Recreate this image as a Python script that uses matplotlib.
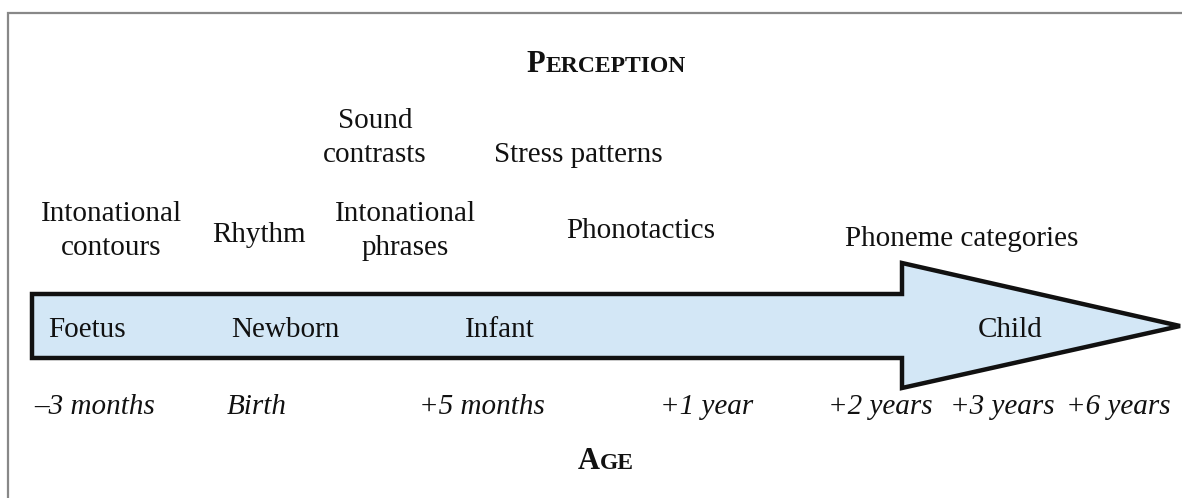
import matplotlib
matplotlib.use("Agg")
import matplotlib.pyplot as plt
from matplotlib.patches import Polygon

plt.rcParams['font.family'] = ['Liberation Serif', 'DejaVu Serif']

W, H = 1182, 498

# perception labels (text, x, y) in pixel coordinates
perception = [
    ("Sound\ncontrasts", 375, 138),
    ("Stress patterns", 578, 155),
    ("Intonational\ncontours", 111, 231),
    ("Rhythm", 259, 235),
    ("Intonational\nphrases", 405, 231),
    ("Phonotactics", 641, 231),
    ("Phoneme categories", 962, 239),
]

stages = ["Foetus", "Newborn", "Infant", "Child"]
stage_x = [87, 285, 500, 1010]

ages = ["\u20133 months", "Birth", "+5 months", "+1 year",
        "+2 years", "+3 years", "+6 years"]
age_x = [95, 257, 482, 707, 880, 1002, 1118]

# arrow outline: shaft, head base, tip
shaft_x0, shaft_top, shaft_bot = 32, 294, 358
head_x, head_top, head_bot = 902, 263, 388
tip_x, tip_y = 1180, 326

fig = plt.figure(figsize=(W / 100, H / 100), dpi=100)
ax = fig.add_axes([0, 0, 1, 1])
ax.set_xlim(0, W)
ax.set_ylim(H, 0)
ax.axis('off')

# frame
ax.plot([8, 8, W + 5], [H + 5, 13, 13], color='#888888', lw=1.6,
        solid_joinstyle='miter')

pts = [(shaft_x0, shaft_top), (head_x, shaft_top), (head_x, head_top),
       (tip_x, tip_y), (head_x, head_bot), (head_x, shaft_bot),
       (shaft_x0, shaft_bot)]
ax.add_patch(Polygon(pts, closed=True, facecolor='#d3e7f6',
                     edgecolor='#111111', lw=3.2, joinstyle='miter'))

fs = 21
for txt, x, y in perception:
    ax.text(x, y, txt, ha='center', va='center', fontsize=fs,
            linespacing=1.38, color='#111111')

for txt, x in zip(stages, stage_x):
    ax.text(x, 330, txt, ha='center', va='center', fontsize=fs,
            color='#111111')

for txt, x in zip(ages, age_x):
    ax.text(x, 407, txt, ha='center', va='center', fontsize=fs,
            style='italic', color='#111111')


def small_caps(word, xc, y, big=22, small=17):
    r = fig.canvas.get_renderer()
    t1 = ax.text(0, y, word[0], fontsize=big, fontweight='bold',
                 ha='left', va='baseline', color='#111111')
    t2 = ax.text(0, y, word[1:].upper(), fontsize=small, fontweight='bold',
                 ha='left', va='baseline', color='#111111')
    w1 = t1.get_window_extent(r).width
    w2 = t2.get_window_extent(r).width
    x0 = xc - (w1 + w2) / 2
    t1.set_x(x0)
    t2.set_x(x0 + w1)


fig.canvas.draw()
small_caps("Perception", 606, 72)
small_caps("Age", 606, 469)

fig.savefig("out.png", dpi=100)
